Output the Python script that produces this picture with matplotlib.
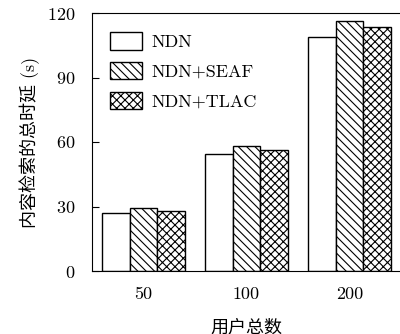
import matplotlib
matplotlib.use("Agg")
import matplotlib.pyplot as plt
import numpy as np

# -- Data ---------------------------------------------------
users = ["50", "100", "200"]
ndn = [27, 54.4, 108.8]
ndn_seaf = [29.2, 58.1, 116.4]
ndn_tlac = [28.0, 56.3, 113.3]
series_names = ["NDN", "NDN+SEAF", "NDN+TLAC"]
hatches = ["", "\\\\\\\\", "xxxx"]

plt.rcParams["font.family"] = ["cmr10", "Noto Sans CJK SC", "DejaVu Sans"]
plt.rcParams["axes.formatter.use_mathtext"] = True
plt.rcParams["hatch.linewidth"] = 0.8

fig = plt.figure(figsize=(4.0, 3.34), dpi=100)
ax = fig.add_axes([92 / 400, 1 - 271 / 334, 309 / 400, 258 / 334])

x = np.arange(len(users))
w = 0.27
for i, (vals, name, h) in enumerate(zip([ndn, ndn_seaf, ndn_tlac], series_names, hatches)):
    ax.bar(x + (i - 1) * w, vals, width=w, facecolor="white", edgecolor="black",
           linewidth=1.0, hatch=h, label=name)

ax.set_xlim(-0.5, 2.5)
ax.set_ylim(0, 120)
ax.set_yticks([0, 30, 60, 90, 120])
ax.set_xticks(x)
ax.set_xticklabels(users)
ax.tick_params(axis="y", direction="in", length=5, labelsize=13, pad=12)
ax.tick_params(axis="x", length=0, labelsize=13, pad=11)

ax.set_ylabel("内容检索的总时延 (s)", fontsize=13, labelpad=5)
ax.set_xlabel("用户总数", fontsize=13, labelpad=12)

leg = ax.legend(loc="upper left", frameon=False, fontsize=13, handlelength=1.75,
                handleheight=1.1, labelspacing=0.66, handletextpad=0.55,
                borderaxespad=0.0, borderpad=0.0, bbox_to_anchor=(0.058, 0.925))

fig.savefig("out.png", dpi=100)
